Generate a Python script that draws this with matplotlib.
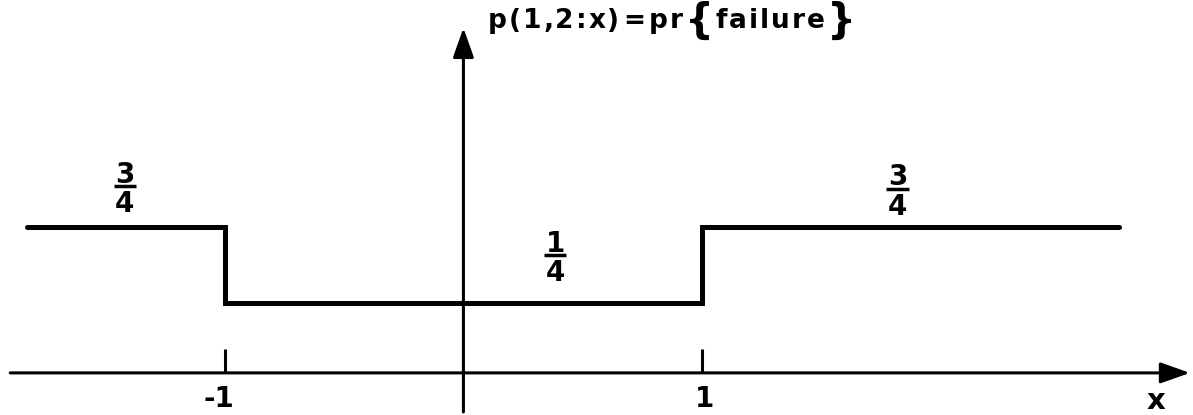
import matplotlib
matplotlib.use("Agg")
import matplotlib.pyplot as plt
from matplotlib.transforms import offset_copy

# p(1,2:x): failure probability, piecewise constant in x
edges = [-1.83, -1.0, 1.0, 2.75]
levels = [0.75, 0.25, 0.75]
level_num = ["3", "1", "3"]
level_den = ["4", "4", "4"]
label_x = [-1.42, 0.385, 1.82]
ticks = [-1.0, 1.0]
tick_labels = ["-1", "1"]
title = "p(1,2:x)=pr{failure}"
xlabel = "x"

# layout (data units of the drawing)
AXIS_Y = -0.21          # where the x axis line sits
XLIM = (-1.943, 3.059)
YLIM = (-0.487, 2.243)
LABEL_DY = [29.5, 34.5, 27.5]   # fraction bar height above its level, points
LW_STEP, LW_AXIS = 3.6, 2.2


def fraction(ax, x, y, dy, num, den, size=20):
    fig = ax.figure
    bar = offset_copy(ax.transData, fig=fig, x=0, y=dy, units="points")
    ax.plot([x - 0.047, x + 0.047], [y, y], transform=bar, color="k",
            lw=2.5, solid_capstyle="butt")
    ax.text(x, y, num, transform=offset_copy(ax.transData, fig=fig, y=dy + 2.5, units="points"),
            ha="center", va="baseline", fontsize=size, fontweight="bold")
    ax.text(x, y, den, transform=offset_copy(ax.transData, fig=fig, y=dy - 3.0, units="points"),
            ha="center", va="top", fontsize=size, fontweight="bold")


def tracked(ax, x, y, s, size, track, big=1.55):
    prev = ax.text(x, y, s[0], fontsize=size, fontweight="bold", ha="left", va="center")
    for ch in s[1:]:
        fs = size * big if ch in "{}" else size
        gap = track * 2.0 if ch in "=" or prev.get_text() == "=" else track
        prev = ax.annotate(ch, xy=(1, 0.5), xycoords=prev, xytext=(gap, 0),
                           textcoords="offset points", ha="left", va="center",
                           fontsize=fs, fontweight="bold")
    return prev


fig = plt.figure(figsize=(11.93, 4.15), dpi=100)
ax = fig.add_axes([0, 0, 1, 1])
ax.set_xlim(*XLIM)
ax.set_ylim(*YLIM)
ax.axis("off")

# axes with arrowheads
head = dict(arrowstyle="-|>,head_length=0.9,head_width=0.32", color="k",
            lw=LW_AXIS, shrinkA=0, shrinkB=0, mutation_scale=20)
ax.annotate("", xy=(3.046, AXIS_Y), xytext=(-1.90, AXIS_Y), arrowprops=head)
ax.annotate("", xy=(0, 2.059), xytext=(0, -0.467), arrowprops=head)

# tick marks and labels
ax.vlines(ticks, AXIS_Y, AXIS_Y + 0.158, color="k", lw=LW_AXIS)
for t, lab in zip(ticks, tick_labels):
    dx = -4 if lab.startswith("-") else 1.5
    ax.annotate(lab, xy=(t, AXIS_Y), xytext=(dx, -9), textcoords="offset points",
                ha="center", va="top", fontsize=20, fontweight="bold")
ax.annotate(xlabel, xy=(2.904, AXIS_Y), xytext=(0, -10), textcoords="offset points",
            ha="center", va="top", fontsize=21, fontweight="bold")

# step curve
ys = levels + [levels[-1]]
ax.step(edges, ys, where="post", color="k", lw=LW_STEP,
        solid_capstyle="round", solid_joinstyle="miter")

for x, lvl, dy, n, d in zip(label_x, levels, LABEL_DY, level_num, level_den):
    fraction(ax, x, lvl, dy, n, d)

tracked(ax, 0.103, 2.105, title, 19, 1.4)

fig.savefig("out.png", dpi=100)
